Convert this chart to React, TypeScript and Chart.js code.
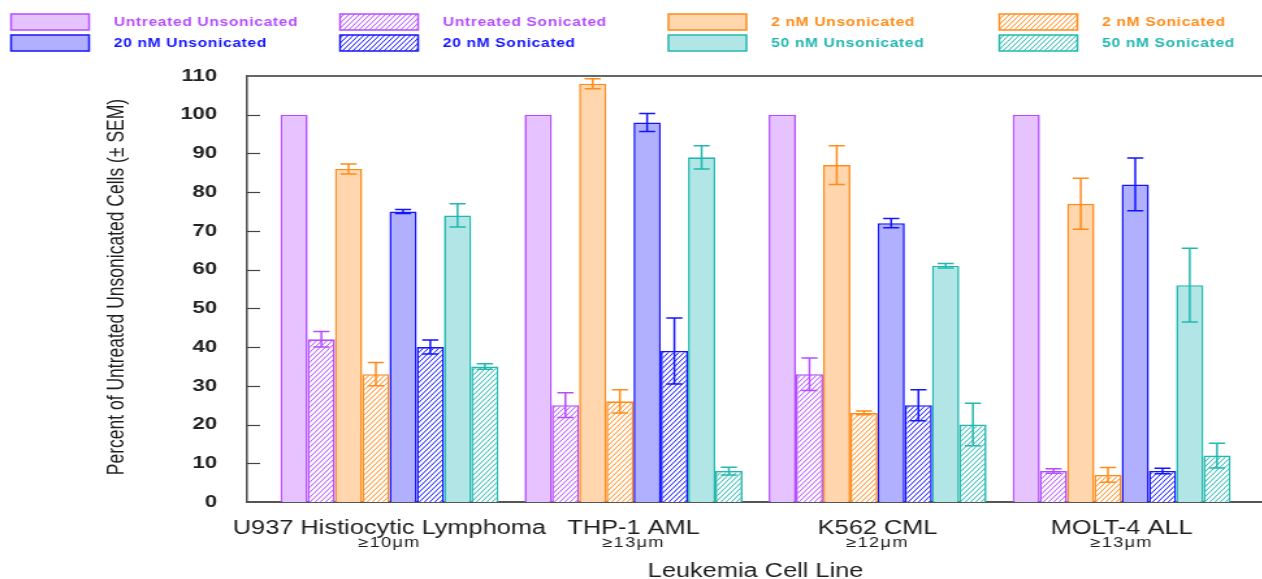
import React, { useEffect, useRef } from 'react';
import { Chart, registerables } from 'chart.js';

Chart.register(...registerables);

// ---------- data ----------
const categories = ['U937 Histiocytic Lymphoma', 'THP-1 AML', 'K562 CML', 'MOLT-4 ALL'];
const sizeLabels = ['\u226510\u03bcm', '\u226513\u03bcm', '\u226512\u03bcm', '\u226513\u03bcm'];
const seriesNames = [
  'Untreated Unsonicated', 'Untreated Sonicated',
  '2 nM Unsonicated', '2 nM Sonicated',
  '20 nM Unsonicated', '20 nM Sonicated',
  '50 nM Unsonicated', '50 nM Sonicated',
];
const untreatedUnsonicated = [100, 100, 100, 100];
const untreatedSonicated = [42, 25, 33, 8];
const nM2Unsonicated = [86, 108, 87, 77];
const nM2Sonicated = [33, 26, 23, 7];
const nM20Unsonicated = [75, 98, 72, 82];
const nM20Sonicated = [40, 39, 25, 8];
const nM50Unsonicated = [74, 89, 61, 56];
const nM50Sonicated = [35, 8, 20, 12];

const errUntreatedUnsonicated = [0, 0, 0, 0];
const errUntreatedSonicated = [2, 3.2, 4.2, 0.6];
const err2Unsonicated = [1.3, 1.3, 5, 6.6];
const err2Sonicated = [3, 3, 0.5, 1.9];
const err20Unsonicated = [0.5, 2.3, 1.2, 6.8];
const err20Sonicated = [1.8, 8.5, 4, 0.7];
const err50Unsonicated = [3, 3, 0.6, 9.5];
const err50Sonicated = [0.7, 1, 5.5, 3.2];

const yTicks = [0, 10, 20, 30, 40, 50, 60, 70, 80, 90, 100, 110];
const xTitle = 'Leukemia Cell Line';
const yTitle = 'Percent of Untreated Unsonicated Cells (\u00b1 SEM)';

// ---------- styling ----------
const SX = 1.3; // horizontal stretch of the whole picture
const CW = 972;
const CH = 579;
const FONT = "'Liberation Sans', Arial, sans-serif";

const colors = [
  { fill: '#E6C3FF', line: '#B54DFF' },
  { fill: '#FFD6AD', line: '#FF8C1A' },
  { fill: '#B0B0FF', line: '#1414FF' },
  { fill: '#B2E6E6', line: '#22B8B0' },
];

const values = [
  untreatedUnsonicated, untreatedSonicated,
  nM2Unsonicated, nM2Sonicated,
  nM20Unsonicated, nM20Sonicated,
  nM50Unsonicated, nM50Sonicated,
];
const errors = [
  errUntreatedUnsonicated, errUntreatedSonicated,
  err2Unsonicated, err2Sonicated,
  err20Unsonicated, err20Sonicated,
  err50Unsonicated, err50Sonicated,
];

function makeHatch(color: string) {
  const w = 4, h = 5;
  const c = document.createElement('canvas');
  c.width = w; c.height = h;
  const g = c.getContext('2d')!;
  g.fillStyle = '#ffffff';
  g.fillRect(0, 0, w, h);
  g.strokeStyle = color;
  g.lineWidth = 1;
  for (const dx of [-w, 0, w]) {
    g.beginPath();
    g.moveTo(dx, h);
    g.lineTo(dx + w, 0);
    g.stroke();
  }
  return g.createPattern(c, 'repeat')!;
}

export default function App() {
  const ref = useRef<HTMLCanvasElement>(null);

  useEffect(() => {
    const canvas = ref.current!;
    const hatches = colors.map((c) => makeHatch(c.line));
    const fillFor = (d: number) => (d % 2 === 0 ? colors[d >> 1].fill : hatches[d >> 1]);

    const datasets = values.map((vals, d) => ({
      label: seriesNames[d],
      data: vals.map((v, i) => ({ x: i, y: v })),
      backgroundColor: fillFor(d),
      borderColor: colors[d >> 1].line,
      borderWidth: 1.6,
      borderSkipped: 'start',
      categoryPercentage: 0.893,
      barPercentage: 1,
    }));

    const decor = {
      id: 'decor',
      beforeDraw(chart: any) {
        const { ctx } = chart;
        ctx.save();
        ctx.fillStyle = '#ffffff';
        ctx.fillRect(0, 0, chart.width, chart.height);
        ctx.restore();
      },
      afterDatasetsDraw(chart: any) {
        const { ctx } = chart;
        const ys = chart.scales.y;
        ctx.save();
        values.forEach((vals, d) => {
          const meta = chart.getDatasetMeta(d);
          ctx.strokeStyle = colors[d >> 1].line;
          ctx.lineWidth = 1.5;
          vals.forEach((v, i) => {
            const e = errors[d][i];
            if (!e) return;
            const bar = meta.data[i];
            const x = bar.x;
            const yt = ys.getPixelForValue(v + e);
            const yb = ys.getPixelForValue(v - e);
            const cw = 6.2;
            ctx.beginPath();
            ctx.moveTo(x, yt); ctx.lineTo(x, yb);
            ctx.moveTo(x - cw, yt); ctx.lineTo(x + cw, yt);
            ctx.moveTo(x - cw, yb); ctx.lineTo(x + cw, yb);
            ctx.stroke();
          });
        });
        ctx.restore();
      },
      afterDraw(chart: any) {
        const { ctx, chartArea } = chart;
        const xs = chart.scales.x;
        const ys = chart.scales.y;
        ctx.save();
        // top frame line
        ctx.strokeStyle = '#666';
        ctx.lineWidth = 2;
        ctx.beginPath();
        ctx.moveTo(chartArea.left, chartArea.top);
        ctx.lineTo(chartArea.right + 2, chartArea.top);
        ctx.stroke();
        // inward tick marks
        ctx.strokeStyle = '#444';
        ctx.lineWidth = 1.2;
        yTicks.forEach((t) => {
          if (t === 0 || t === 110) return;
          const y = Math.round(ys.getPixelForValue(t)) + 0.5;
          ctx.beginPath();
          ctx.moveTo(chartArea.left, y);
          ctx.lineTo(chartArea.left + 10, y);
          ctx.stroke();
        });
        // category labels
        ctx.fillStyle = '#1e1e1e';
        ctx.textAlign = 'center';
        ctx.textBaseline = 'alphabetic';
        categories.forEach((c, i) => {
          const x = xs.getPixelForValue(i);
          ctx.font = `19.5px ${FONT}`;
          (ctx as any).letterSpacing = '0px';
          ctx.fillText(c, x, 534);
          ctx.font = `14px ${FONT}`;
          (ctx as any).letterSpacing = '1px';
          ctx.fillText(sizeLabels[i], x, 547);
        });
        (ctx as any).letterSpacing = '0px';
        // x title
        ctx.font = `19.5px ${FONT}`;
        ctx.fillText(xTitle, (chartArea.left + chartArea.right) / 2, 577);
        // y title
        ctx.save();
        ctx.translate(90, (chartArea.top + chartArea.bottom) / 2 - 2);
        ctx.rotate(-Math.PI / 2);
        ctx.font = `17.5px ${FONT}`;
        ctx.textBaseline = 'middle';
        ctx.fillText(yTitle, 0, 0);
        ctx.restore();
        // legend
        const colX = [8.5, 261.5, 514, 768.5];
        const rowY = [22, 43];
        ctx.textAlign = 'left';
        ctx.textBaseline = 'middle';
        ctx.font = `bold 12px ${FONT}`;
        (ctx as any).letterSpacing = '0.5px';
        seriesNames.forEach((name, d) => {
          const col = d % 4;
          const row = Math.floor(d / 4);
          const bx = colX[col];
          const by = rowY[row];
          ctx.fillStyle = fillFor(d);
          ctx.fillRect(bx, by - 8, 60, 16);
          ctx.strokeStyle = colors[d >> 1].line;
          ctx.lineWidth = 1.5;
          ctx.strokeRect(bx, by - 8, 60, 16);
          ctx.fillStyle = colors[d >> 1].line;
          ctx.fillText(name, bx + 79, by + 0.5);
        });
        ctx.restore();
      },
    };

    const chart = new Chart(canvas, {
      type: 'bar',
      data: { datasets: datasets as any },
      options: {
        responsive: false,
        maintainAspectRatio: false,
        animation: false,
        devicePixelRatio: 1,
        layout: { padding: { top: 76, left: 0, right: 0, bottom: 0 } },
        plugins: { legend: { display: false }, tooltip: { enabled: false } },
        scales: {
          x: {
            type: 'linear',
            offset: false,
            min: -0.5833,
            max: 3.5833,
            afterBuildTicks: (s: any) => { s.ticks = categories.map((_, i) => ({ value: i })); },
            ticks: { display: false },
            grid: { display: false, drawTicks: false, offset: false },
            border: { display: true, color: '#555', width: 2 },
            afterFit: (s: any) => { s.height = CH - 502; },
          },
          y: {
            min: 0,
            max: 110,
            afterBuildTicks: (s: any) => { s.ticks = yTicks.map((v) => ({ value: v })); },
            ticks: { color: '#222', font: { family: FONT, size: 17, weight: 'bold' }, padding: 23 },
            grid: { display: false, drawTicks: false },
            border: { display: true, color: '#555', width: 1.6 },
            afterFit: (s: any) => { s.width = 190; },
          },
        },
      } as any,
      plugins: [decor],
    });
    return () => chart.destroy();
  }, []);

  return (
    <div style={{ position: 'fixed', left: 0, top: 0, width: 1262, height: 579, overflow: 'hidden', background: '#fff' }}>
      <canvas
        ref={ref}
        width={CW}
        height={CH}
        style={{ display: 'block', width: `${CW * SX}px`, height: `${CH}px` }}
      />
    </div>
  );
}
